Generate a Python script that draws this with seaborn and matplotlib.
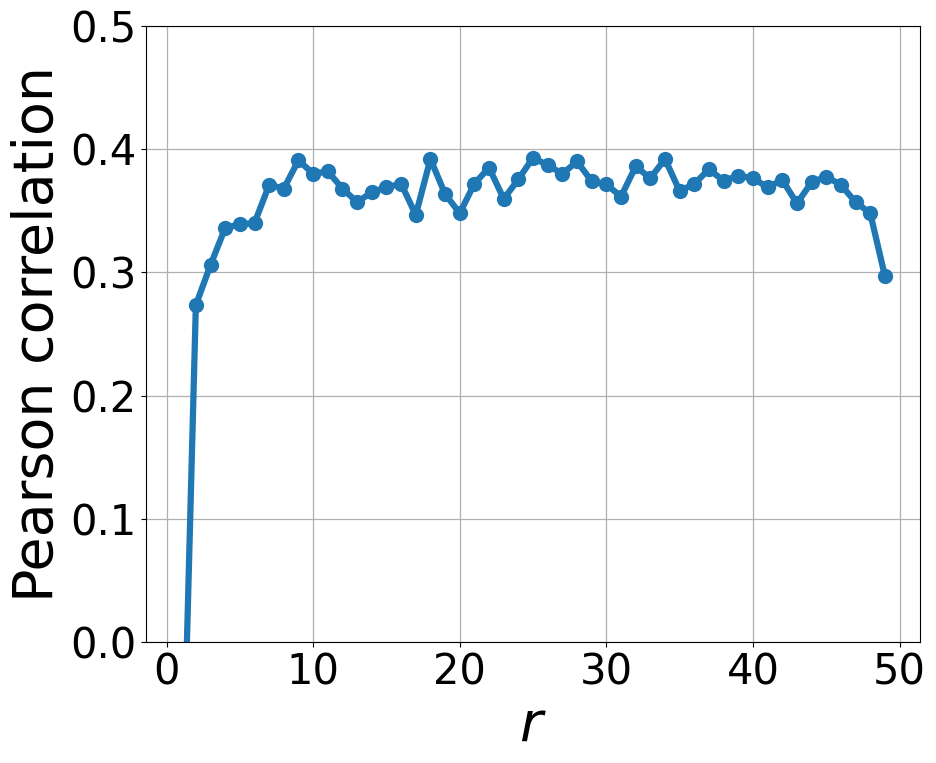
import matplotlib
import matplotlib.pyplot as plt
import pandas as pd
import seaborn as sns

matplotlib.use("Agg")

r_values = list(range(1, 50))
pearson = [
    -0.175, 0.2735, 0.306, 0.336, 0.339, 0.340, 0.371, 0.368, 0.391, 0.380,
    0.382, 0.368, 0.357, 0.365, 0.369, 0.372, 0.3466, 0.392, 0.3636, 0.348,
    0.372, 0.385, 0.3596, 0.3756, 0.393, 0.387, 0.380, 0.390, 0.374, 0.3715,
    0.3615, 0.386, 0.3764, 0.392, 0.366, 0.3718, 0.3837, 0.3742, 0.3785, 0.3764,
    0.369, 0.375, 0.356, 0.3731, 0.3777, 0.371, 0.357, 0.348, 0.297,
]
y_ticks = [0.0, 0.1, 0.2, 0.3, 0.4, 0.5]

df = pd.DataFrame({"r": r_values, "pearson": pearson})

fig = plt.figure(figsize=(9.36, 7.63), dpi=100)
ax = fig.add_axes([0.156, 0.1586, 0.827, 0.8074])
sns.lineplot(data=df, x="r", y="pearson", marker="o", color="#1f77b4",
             linewidth=4.5, markersize=11, markeredgewidth=0, ax=ax)
ax.set_ylim(0, 0.5)
ax.set_yticks(y_ticks)
ax.grid(True, color="#b0b0b0", linewidth=0.9)
ax.set_axisbelow(True)
ax.tick_params(labelsize=30)
ax.set_xlabel("$r$", fontsize=40)
ax.set_ylabel("Pearson correlation", fontsize=40)
fig.savefig("out.png", dpi=100)
plt.close(fig)
